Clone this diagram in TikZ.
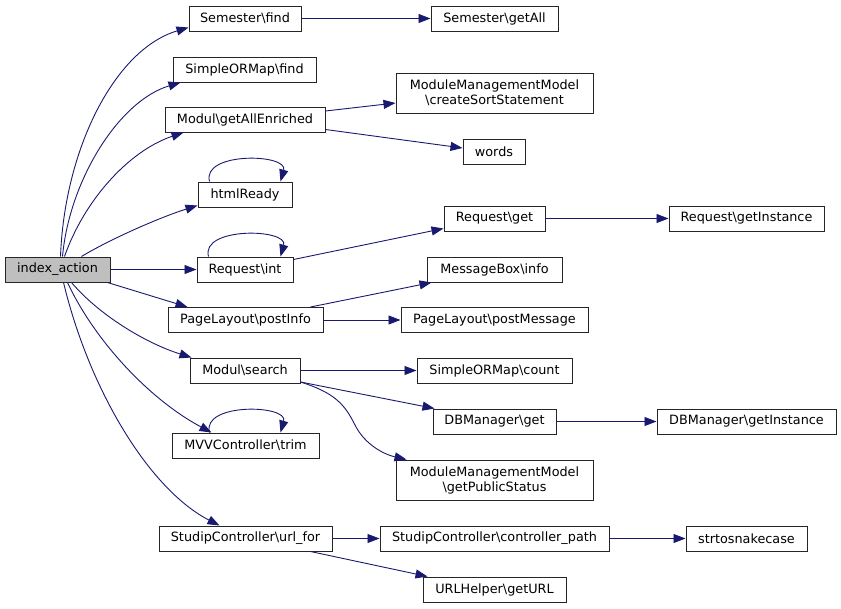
\documentclass[tikz,border=0pt]{standalone}
\usepackage{fontspec}
\setmainfont{DejaVu Sans}
\usetikzlibrary{arrows.meta}
\definecolor{edgec}{HTML}{191970}
\definecolor{rootfill}{HTML}{BFBFBF}
\begin{document}
\begin{tikzpicture}[x=1pt,y=-1pt,
  fn/.style={draw=black!85,line width=1pt,fill=white,rectangle,inner sep=0pt,font=\fontsize{12.8}{15}\selectfont,align=center},
  ed/.style={draw=edgec,line width=0.9pt,-{Triangle[length=12pt,width=9pt,fill=edgec]}}]
\useasboundingbox (0,0) rectangle (841,608);
% nodes
\node[fn,fill=rootfill,minimum width=105,minimum height=25] (idx) at (57.5,269.5) {index\_action};
\node[fn,minimum width=112,minimum height=25] (sfind) at (245,18.5) {Semester\textbackslash find};
\node[fn,minimum width=127,minimum height=25] (sgetall) at (494.5,18.5) {Semester\textbackslash getAll};
\node[fn,minimum width=143,minimum height=25] (ofind) at (244.5,69.5) {SimpleORMap\textbackslash find};
\node[fn,minimum width=160,minimum height=25] (gae) at (245,119.5) {Modul\textbackslash getAllEnriched};
\node[fn,minimum width=197,minimum height=40] (css) at (494.5,93) {ModuleManagementModel\\\textbackslash createSortStatement};
\node[fn,minimum width=62,minimum height=25] (words) at (494,152) {words};
\node[fn,minimum width=94,minimum height=25] (html) at (245,194.5) {htmlReady};
\node[fn,minimum width=96,minimum height=25] (rint) at (245,269.5) {Request\textbackslash int};
\node[fn,minimum width=101,minimum height=25] (rget) at (494.5,218.5) {Request\textbackslash get};
\node[fn,minimum width=155,minimum height=25] (rgi) at (746.5,218.5) {Request\textbackslash getInstance};
\node[fn,minimum width=135,minimum height=25] (mbi) at (494.5,269.5) {MessageBox\textbackslash info};
\node[fn,minimum width=155,minimum height=25] (pinfo) at (245.5,320) {PageLayout\textbackslash postInfo};
\node[fn,minimum width=187,minimum height=25] (pmsg) at (494.5,320) {PageLayout\textbackslash postMessage};
\node[fn,minimum width=110,minimum height=25] (msearch) at (245,370.5) {Modul\textbackslash search};
\node[fn,minimum width=155,minimum height=25] (cnt) at (494.5,370.5) {SimpleORMap\textbackslash count};
\node[fn,minimum width=123,minimum height=25] (dbget) at (494.5,421.5) {DBManager\textbackslash get};
\node[fn,minimum width=179,minimum height=25] (dbgi) at (746.5,421.5) {DBManager\textbackslash getInstance};
\node[fn,minimum width=197,minimum height=40] (gps) at (494.5,480) {ModuleManagementModel\\\textbackslash getPublicStatus};
\node[fn,minimum width=147,minimum height=25] (trim) at (245.5,445.5) {MVVController\textbackslash trim};
\node[fn,minimum width=173,minimum height=25] (urlfor) at (245.5,538.5) {StudipController\textbackslash url\_for};
\node[fn,minimum width=229,minimum height=25] (cpath) at (494.5,538.5) {StudipController\textbackslash controller\_path};
\node[fn,minimum width=121,minimum height=25] (snake) at (746.5,538.5) {strtosnakecase};
\node[fn,minimum width=143,minimum height=25] (geturl) at (494.5,589.5) {URLHelper\textbackslash getURL};
\coordinate (bend) at (355,425);
% edges from index_action
\draw[ed] ([xshift=56]idx.north west) .. controls +(4,-107) and +(-74,22) .. ([yshift=-9]sfind.west);
\draw[ed] ([xshift=58]idx.north west) .. controls +(7,-77) and +(-61,18) .. ([xshift=8]ofind.south west);
\draw[ed] ([xshift=60]idx.north west) .. controls +(20,-57) and +(-54,18) .. ([xshift=19]gae.south west);
\draw[ed] ([xshift=77]idx.north west) .. controls +(28,-17) and +(-38,12) .. ([yshift=-11]html.west);
\draw[ed] (idx.east) -- (rint.west);
\draw[ed] ([xshift=-3]idx.south east) -- ([xshift=20]pinfo.north west);
\draw[ed] ([xshift=67]idx.south west) .. controls +(28,33) and +(-45,-14) .. ([xshift=2]msearch.north west);
\draw[ed] ([xshift=63]idx.south west) .. controls +(27,58) and +(-62,-33) .. ([xshift=40]trim.north west);
\draw[ed] ([xshift=59]idx.south west) .. controls +(26,108) and +(-70,-36) .. ([xshift=61]urlfor.north west);
% self loops
\draw[ed] ([xshift=12]html.north west) .. controls +(-8,-30) and +(8,-28) .. ([xshift=-12]html.north east);
\draw[ed] ([xshift=12]rint.north west) .. controls +(-8,-30) and +(8,-28) .. ([xshift=-13]rint.north east);
\draw[ed] ([xshift=38]trim.north west) .. controls +(-8,-30) and +(8,-28) .. ([xshift=-39]trim.north east);
% other edges
\draw[ed] (sfind.east) -- (sgetall.west);
\draw[ed] ([yshift=8.5]gae.east) -- ([yshift=-10]css.west);
\draw[ed] ([yshift=-10]gae.east) -- ([yshift=4]words.west);
\draw[ed] ([yshift=10]rint.east) -- ([yshift=-10]rget.west);
\draw[ed] (rget.east) -- (rgi.west);
\draw[ed] ([xshift=-13]pinfo.north east) -- ([xshift=5]mbi.south west);
\draw[ed] (pinfo.east) -- (pmsg.west);
\draw[ed] (msearch.east) -- (cnt.west);
\draw[ed] ([yshift=1.5]msearch.south east) -- ([xshift=2]dbget.north west);
\draw[ed] ([yshift=1.5]msearch.south east) .. controls +(35,11) and +(-10,-20) .. (bend) .. controls +(10,20) and +(-22,-5) .. ([xshift=11]gps.north west);
\draw[ed] (dbget.east) -- (dbgi.west);
\draw[ed] (urlfor.east) -- (cpath.west);
\draw[ed] (cpath.east) -- (snake.west);
\draw[ed] ([xshift=-22]urlfor.south east) -- ([xshift=5]geturl.north west);
\end{tikzpicture}
\end{document}
